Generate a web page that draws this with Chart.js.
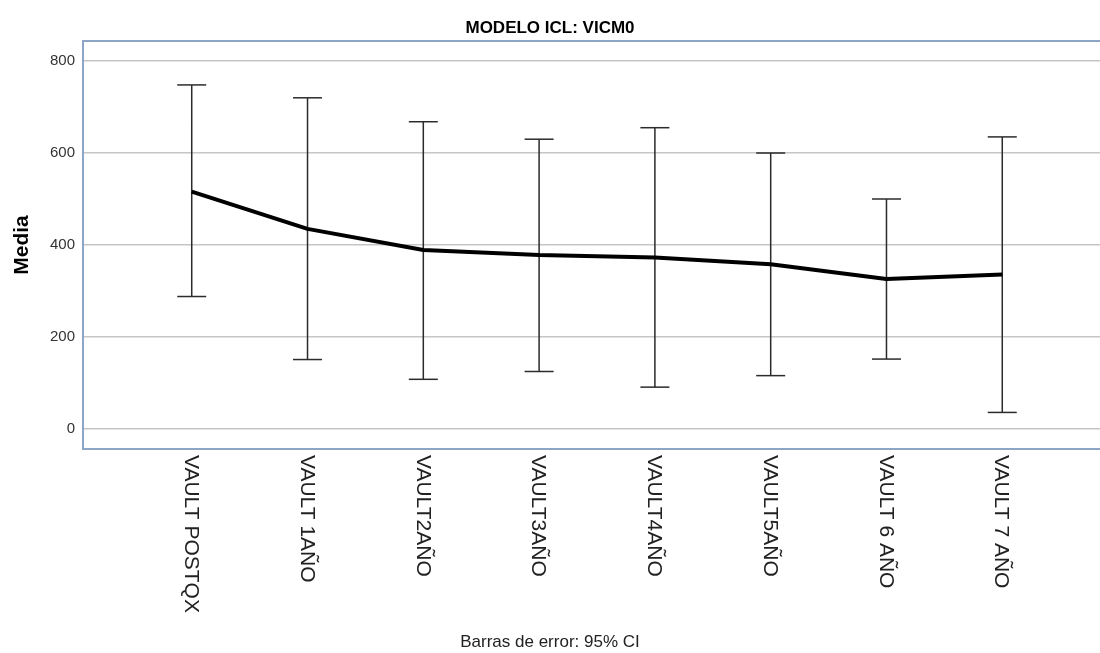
<!DOCTYPE html>
<html><head><meta charset="utf-8">
<script src="https://cdn.jsdelivr.net/npm/chart.js@4"></script>
<style>html,body{margin:0;padding:0;background:#fff}canvas{display:block}</style>
</head><body>
<canvas id="c" width="1100" height="653"></canvas>
<script>
const categories = ["VAULT POSTQX", "VAULT 1AÑO", "VAULT2AÑO", "VAULT3AÑO", "VAULT4AÑO", "VAULT5AÑO", "VAULT 6 AÑO", "VAULT 7 AÑO"];
const means = [516, 435, 389, 378, 373, 358, 326, 336];
const ciLower = [288, 151, 108, 125, 91, 116, 152, 36];
const ciUpper = [748, 720, 668, 630, 655, 600, 500, 635];
const yTicks = [0, 200, 400, 600, 800];
const chartTitle = "MODELO ICL: VICM0";
const footerText = "Barras de error: 95% CI";
const yTitle = "Media";

Chart.defaults.font.family = "'Liberation Sans', Arial, sans-serif";
const FRAME = '#8ea6c6';

const meanData = means.map((v, i) => ({x: i, y: v}));
const ciData = [];
categories.forEach((c, i) => {
  ciData.push({x: i, y: ciLower[i]}, {x: i, y: ciUpper[i]}, {x: i, y: null});
});

const extras = {
  id: 'extras',
  afterDraw(chart) {
    const ctx = chart.ctx;
    const a = chart.chartArea;
    ctx.save();
    ctx.strokeStyle = FRAME;
    ctx.lineWidth = 2;
    ctx.beginPath();
    ctx.moveTo(a.left - 1, a.top);
    ctx.lineTo(a.right, a.top);
    ctx.stroke();
    const xs = chart.scales.x;
    ctx.fillStyle = '#222';
    ctx.font = "21px 'Liberation Sans', Arial, sans-serif";
    ctx.textAlign = 'left';
    ctx.textBaseline = 'middle';
    categories.forEach((lab, i) => {
      const px = xs.getPixelForValue(i);
      ctx.save();
      ctx.translate(px - 1, a.bottom + 6);
      ctx.rotate(Math.PI / 2);
      ctx.fillText(lab, 0, 0);
      ctx.restore();
    });
    ctx.restore();
  }
};

new Chart(document.getElementById('c'), {
  type: 'line',
  data: {
    datasets: [
      {label: 'Media', data: meanData, borderColor: '#000', borderWidth: 4, pointRadius: 0, tension: 0, fill: false, borderJoinStyle: 'round'},
      {label: '95% CI', data: ciData, borderColor: '#2b2b2b', borderWidth: 1.5, pointStyle: 'line', pointRadius: 14.5, pointHoverRadius: 14.5, pointBorderColor: '#2b2b2b', pointBorderWidth: 1.5, spanGaps: false, fill: false}
    ]
  },
  options: {
    responsive: false,
    animation: false,
    devicePixelRatio: 1,
    layout: {padding: 0, autoPadding: false},
    plugins: {
      legend: {display: false},
      tooltip: {enabled: false},
      title: {display: true, text: chartTitle, fullSize: true, color: '#000', font: {size: 17, weight: 'bold'}, padding: {top: 17.8, bottom: 2.8}},
      subtitle: {display: true, position: 'bottom', text: footerText, color: '#222', font: {size: 17}, padding: {top: 4.6, bottom: 0}}
    },
    scales: {
      x: {
        type: 'linear', min: -0.939, max: 7.844,
        grid: {display: false},
        border: {color: FRAME, width: 2},
        ticks: {display: false},
        afterFit(s) { s.height = 179; }
      },
      y: {
        min: -43.5, max: 843.5,
        afterBuildTicks(s) { s.ticks = yTicks.map(v => ({value: v})); },
        grid: {color: '#c6c6c6', lineWidth: 1.5, drawTicks: false},
        border: {color: FRAME, width: 2},
        ticks: {padding: 8, color: '#333', font: {size: 15}},
        title: {display: true, text: yTitle, color: '#000', font: {size: 21, weight: 'bold'}, padding: {top: 9.5, bottom: 0}},
        afterFit(s) { s.width = 83; }
      }
    }
  },
  plugins: [extras]
});
</script>
</body></html>
